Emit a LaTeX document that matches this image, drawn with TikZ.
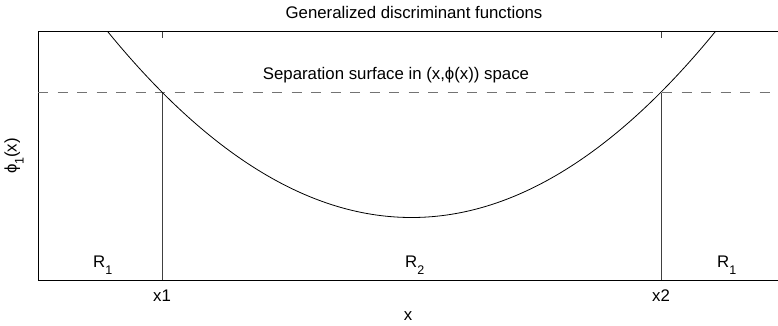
\documentclass[tikz,border=0pt]{standalone}
\usepackage{fontspec}
\setmainfont{Liberation Sans}
\begin{document}
\begin{tikzpicture}[x=1pt,y=-1pt,
  lbl/.style={inner sep=0pt,font=\fontsize{16.8}{19}\selectfont},
  axisline/.style={line width=1pt,black},
  curveline/.style={line width=0.8pt,black},
  vline/.style={line width=0.8pt,black!75},
  sepline/.style={line width=1pt,black!55,dash pattern=on 10pt off 9.5pt},
  tick/.style={line width=0.8pt,black!75}]
\newcommand{\subone}{\raisebox{-7pt}{\fontsize{12.5}{12.5}\selectfont 1}}
\useasboundingbox (0,0) rectangle (778,326);
% axes box (open at right edge)
\coordinate (tl) at (38,32);
\coordinate (bl) at (38,280);
\coordinate (tr) at (778,32);
\coordinate (br) at (778,280);
\draw[axisline] (tr) -- (tl) -- (bl) -- (br);
% separation surface
\coordinate (sepL) at (38,93);
\coordinate (sepR) at (772,93);
\draw[sepline] (sepL) -- (sepR);
% x1, x2 lines
\coordinate (x1top) at (162,93);
\coordinate (x1bot) at (162,280);
\coordinate (x2top) at (661,93);
\coordinate (x2bot) at (661,280);
\draw[vline] (x1top) -- (x1bot);
\draw[vline] (x2top) -- (x2bot);
% top ticks
\coordinate (t1a) at (162,32); \coordinate (t1b) at (162,38);
\coordinate (t2a) at (661,32); \coordinate (t2b) at (661,38);
\draw[tick] (t1a) -- (t1b);
\draw[tick] (t2a) -- (t2b);
% parabola
\begin{scope}
\clip (38,32) rectangle (778,280);
\draw[curveline,domain=100:722,samples=120,smooth] plot (\x,{217.5-0.002008*(\x-411.5)*(\x-411.5)});
\end{scope}
% labels
\node[lbl] (title) at (414,12) {Generalized discriminant functions};
\node[lbl] (sep) at (396,75) {Separation surface in (x,ϕ(x)) space};
\node[lbl,rotate=90] (ylab) at (14,156) {ϕ\subone(x)};
\node[lbl] (xlab) at (408,316) {x};
\node[lbl] (x1) at (162,296) {x1};
\node[lbl] (x2) at (661,296) {x2};
\node[lbl,anchor=base west] (r1l) at (93,267) {R\subone};
\node[lbl,anchor=base west] (r2) at (405,267) {R\raisebox{-7pt}{\fontsize{12.5}{12.5}\selectfont 2}};
\node[lbl,anchor=base west] (r1r) at (717,267) {R\subone};
\end{tikzpicture}
\end{document}
